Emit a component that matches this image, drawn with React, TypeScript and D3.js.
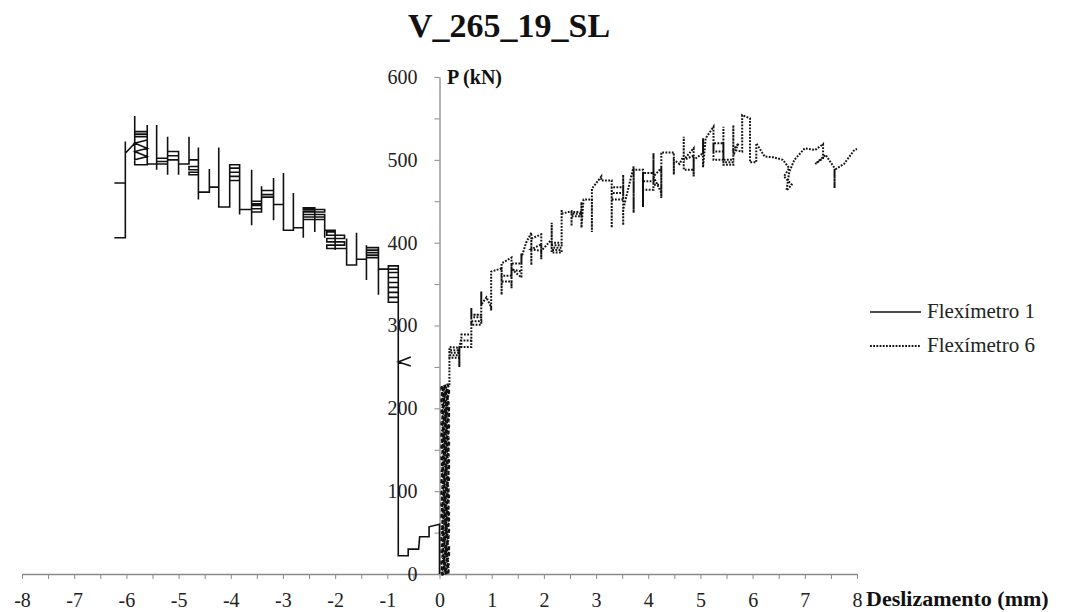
import React, { useRef, useEffect } from 'react';
import * as d3 from 'd3';

type Pt = [number, number]; // [deslizamento (mm), P (kN)]

const xTicks = [-8, -7, -6, -5, -4, -3, -2, -1, 0, 1, 2, 3, 4, 5, 6, 7, 8];
const xMinorTicks = [-7.5, -6.5, -5.5, -4.5, -3.5, -2.5, -1.5, -0.5, 0.5, 1.5, 2.5, 3.5, 4.5, 5.5, 6.5, 7.5];
const yTicks = [0, 100, 200, 300, 400, 500, 600];
const yMinorTicks = [50, 150, 250, 350, 450, 550];

// Flexímetro 1 (solid line) in drawing order
const fleximetro1: Pt[] = [
  [0.0, 0], [0.0, 60], [-0.2, 57], [-0.2, 45], [-0.38, 45], [-0.4, 30], [-0.6, 30], [-0.6, 22], [-0.79, 22],
  [-0.79, 256], [-0.55, 262], [-0.79, 256], [-0.55, 251], [-0.79, 256],
  [-0.79, 372], [-0.98, 372], [-0.98, 328], [-0.79, 328], [-0.79, 334], [-0.98, 334], [-0.98, 340], [-0.79, 340],
  [-0.79, 346], [-0.98, 346], [-0.98, 352], [-0.79, 352], [-0.79, 358], [-0.98, 358], [-0.98, 364], [-0.79, 364],
  [-0.79, 368], [-1.17, 368],
  [-1.17, 337], [-1.17, 391], [-1.17, 382],
  [-1.4, 382], [-1.4, 355], [-1.4, 397], [-1.4, 385], [-1.17, 385], [-1.17, 388], [-1.4, 388], [-1.4, 391],
  [-1.17, 391], [-1.17, 394], [-1.4, 394], [-1.4, 380],
  [-1.59, 380], [-1.59, 412], [-1.59, 373],
  [-1.78, 373], [-1.78, 405], [-1.78, 393],
  [-2.16, 393], [-2.16, 397], [-1.82, 397], [-1.82, 401], [-2.16, 401], [-2.16, 405], [-1.82, 405], [-1.82, 409],
  [-2.16, 409], [-2.16, 413], [-2.0, 413], [-2.0, 391], [-2.0, 415], [-2.2, 415], [-2.2, 406], [-2.2, 435],
  [-2.2, 428],
  [-2.61, 428], [-2.61, 431], [-2.2, 431], [-2.2, 434], [-2.61, 434], [-2.61, 437], [-2.2, 437], [-2.2, 440],
  [-2.61, 440], [-2.61, 442], [-2.39, 442], [-2.39, 413], [-2.39, 438], [-2.61, 438], [-2.61, 406], [-2.61, 418],
  [-2.8, 418], [-2.8, 460], [-2.8, 415],
  [-2.99, 415], [-2.99, 484], [-2.99, 446],
  [-3.18, 446], [-3.18, 427], [-3.18, 478], [-3.18, 458],
  [-3.41, 458], [-3.41, 463], [-3.18, 463], [-3.18, 455], [-3.41, 455], [-3.41, 437], [-3.41, 468], [-3.41, 445],
  [-3.6, 445], [-3.6, 437], [-3.41, 437], [-3.41, 441], [-3.6, 441], [-3.6, 450], [-3.41, 450], [-3.41, 447],
  [-3.6, 447], [-3.6, 421], [-3.6, 488], [-3.6, 440],
  [-3.83, 440], [-3.83, 434], [-3.83, 494], [-3.83, 475],
  [-4.02, 475], [-4.02, 480], [-3.83, 480], [-3.83, 485], [-4.02, 485], [-4.02, 490], [-3.83, 490], [-3.83, 494],
  [-4.02, 494], [-4.02, 443],
  [-4.23, 443], [-4.23, 515], [-4.23, 467],
  [-4.41, 467], [-4.41, 489], [-4.41, 461],
  [-4.62, 461], [-4.62, 452], [-4.62, 515], [-4.62, 485],
  [-4.8, 485], [-4.8, 482], [-4.62, 482], [-4.62, 488], [-4.8, 488], [-4.8, 492], [-4.62, 492], [-4.62, 500],
  [-4.8, 500], [-4.8, 528], [-4.8, 495],
  [-5.0, 495], [-5.0, 482], [-5.0, 510], [-5.0, 500],
  [-5.21, 500], [-5.21, 505], [-5.0, 505], [-5.0, 510], [-5.21, 510], [-5.21, 482], [-5.21, 528], [-5.21, 498],
  [-5.42, 498], [-5.42, 502], [-5.21, 502], [-5.21, 495], [-5.42, 495], [-5.42, 488], [-5.42, 542], [-5.42, 495],
  [-5.6, 495], [-5.6, 542], [-5.6, 494],
  [-5.84, 494], [-5.84, 553], [-5.84, 534], [-5.6, 534], [-5.6, 531], [-5.84, 531], [-5.84, 528], [-5.6, 528],
  [-5.6, 524], [-5.84, 520], [-5.6, 514], [-5.84, 510], [-5.6, 504], [-5.84, 500],
  [-5.84, 520], [-6.02, 508],
  [-6.02, 522], [-6.02, 472], [-6.23, 472], [-6.02, 472], [-6.02, 406], [-6.23, 406],
];

// Flexímetro 6 (dotted line): the dense initial part near zero slip
const fleximetro6Start: Pt[] = [
  [0.03, 0], [0.18, 3], [0.04, 7], [0.19, 10], [0.03, 14], [0.18, 17], [0.05, 21], [0.19, 24], [0.03, 28],
  [0.19, 31], [0.04, 35], [0.18, 38], [0.03, 42], [0.18, 45], [0.04, 49], [0.19, 52], [0.03, 56], [0.18, 59],
  [0.05, 63], [0.19, 66], [0.03, 70], [0.19, 73], [0.04, 77], [0.18, 80], [0.03, 84], [0.18, 87], [0.04, 91],
  [0.19, 94], [0.03, 98], [0.18, 101], [0.05, 105], [0.18, 108], [0.03, 112], [0.19, 115], [0.04, 119],
  [0.18, 122], [0.03, 126], [0.19, 129], [0.04, 133], [0.19, 136], [0.03, 140], [0.18, 143], [0.05, 147],
  [0.18, 150], [0.03, 154], [0.19, 157], [0.04, 161], [0.18, 164], [0.03, 168], [0.18, 171], [0.04, 175],
  [0.19, 178], [0.03, 182], [0.18, 185], [0.05, 189], [0.19, 192], [0.03, 196], [0.19, 199], [0.04, 203],
  [0.18, 206], [0.03, 210], [0.18, 213], [0.04, 217], [0.19, 220], [0.03, 224], [0.18, 228],
];

// Flexímetro 6 (dotted line): the rest of the loading path
const fleximetro6: Pt[] = [
  [0.19, 228], [0.19, 274],
  [0.38, 273], [0.38, 261], [0.19, 261], [0.19, 264], [0.38, 264], [0.38, 267], [0.19, 267], [0.19, 270],
  [0.38, 270], [0.38, 250], [0.38, 274],
  [0.42, 285], [0.42, 289], [0.61, 289], [0.61, 274], [0.42, 274], [0.42, 282], [0.61, 282], [0.61, 321], [0.61, 310],
  [0.8, 310], [0.8, 301], [0.61, 301], [0.61, 305], [0.8, 305], [0.8, 313], [0.61, 313], [0.8, 313], [0.8, 341], [0.8, 325],
  [0.9, 334], [0.99, 322], [0.99, 318], [0.99, 365],
  [1.19, 369], [1.19, 337], [1.19, 375],
  [1.38, 382], [1.38, 360], [1.19, 360], [1.19, 353], [1.38, 353], [1.38, 345], [1.38, 375], [1.57, 375],
  [1.57, 387], [1.57, 365], [1.38, 368], [1.57, 358], [1.57, 382],
  [1.66, 400], [1.76, 412], [1.76, 373], [1.76, 405],
  [1.95, 410], [1.95, 380], [1.95, 398], [1.76, 392], [1.95, 390], [2.15, 404], [2.15, 424], [2.15, 388],
  [2.34, 388], [2.34, 391], [2.15, 391], [2.15, 394], [2.34, 394], [2.34, 397], [2.15, 397], [2.15, 400],
  [2.34, 400], [2.34, 440], [2.34, 435],
  [2.53, 438], [2.53, 420], [2.53, 432], [2.72, 432], [2.72, 435], [2.53, 435], [2.53, 437], [2.72, 437],
  [2.72, 449], [2.72, 418], [2.76, 452], [2.92, 452], [2.92, 413], [2.92, 465], [3.1, 480], [3.1, 475], [3.3, 475],
  [3.3, 418], [3.3, 467], [3.52, 467], [3.52, 452], [3.3, 452], [3.3, 460], [3.52, 460], [3.52, 482],
  [3.52, 421], [3.52, 440], [3.72, 492], [3.72, 436], [3.72, 488], [3.9, 488], [3.9, 443], [3.9, 484],
  [4.1, 484], [4.1, 464], [3.9, 464], [3.9, 474], [4.1, 474], [4.1, 508], [4.1, 470], [4.25, 470],
  [4.25, 460], [4.1, 480], [4.25, 490], [4.25, 454], [4.25, 509], [4.49, 509], [4.49, 482], [4.49, 500],
  [4.6, 495], [4.68, 505], [4.68, 528], [4.68, 488], [4.87, 488], [4.87, 514], [4.68, 500], [4.87, 505],
  [4.87, 480], [4.87, 500], [5.05, 508], [5.05, 526], [5.05, 491], [5.1, 526], [5.25, 540], [5.25, 500],
  [5.44, 500], [5.44, 520], [5.25, 520], [5.25, 510], [5.44, 510], [5.44, 540], [5.44, 494], [5.63, 494],
  [5.63, 497], [5.44, 497], [5.44, 500], [5.63, 500], [5.63, 542], [5.63, 505], [5.73, 520], [5.63, 512],
  [5.8, 510], [5.8, 554], [5.95, 550], [5.95, 497], [6.07, 497], [6.07, 520], [6.23, 504], [6.4, 503],
  [6.58, 500], [6.7, 490], [6.6, 480], [6.75, 470], [6.65, 463], [6.7, 485], [6.8, 500], [7.0, 514],
  [7.2, 512], [7.35, 519], [7.35, 502], [7.2, 495], [7.4, 506], [7.57, 490], [7.57, 466], [7.57, 488],
  [7.75, 495], [7.95, 512], [8.0, 513],
];

const width = 1073;
const height = 612;
const fontFamily = '"Liberation Serif", "Times New Roman", serif';
const dotted = '1.8,1.4';

const App: React.FC = () => {
  const svgRef = useRef<SVGSVGElement | null>(null);

  useEffect(() => {
    if (!svgRef.current) {
      return;
    }
    const svg = d3.select(svgRef.current);
    svg.selectAll('*').remove();

    const x = d3.scaleLinear().domain([-8, 8]).range([22, 857]);
    const y = d3.scaleLinear().domain([0, 600]).range([574, 77]);
    const axisColor = '#8a8a8a';

    // x axis (crosses at P = 0)
    svg.append('g')
      .attr('transform', `translate(0,${y(0)})`)
      .call(d3.axisBottom(x).tickValues(xMinorTicks).tickSize(5).tickFormat(() => ''))
      .call(g => g.select('.domain').remove())
      .call(g => g.selectAll('line').attr('stroke', axisColor));

    svg.append('g')
      .attr('transform', `translate(0,${y(0)})`)
      .call(d3.axisBottom(x).tickValues(xTicks).tickSize(5).tickSizeOuter(0).tickPadding(14)
        .tickFormat(d => `${d}`))
      .call(g => g.select('.domain').attr('stroke', axisColor).attr('stroke-width', 1.3))
      .call(g => g.selectAll('line').attr('stroke', axisColor))
      .call(g => g.selectAll('text')
        .attr('font-family', fontFamily)
        .attr('font-size', 20)
        .attr('fill', '#222'));

    // y axis (crosses at slip = 0)
    svg.append('g')
      .attr('transform', `translate(${x(0)},0)`)
      .call(d3.axisLeft(y).tickValues(yMinorTicks).tickSize(5).tickFormat(() => ''))
      .call(g => g.select('.domain').remove())
      .call(g => g.selectAll('line').attr('stroke', axisColor));

    svg.append('g')
      .attr('transform', `translate(${x(0)},0)`)
      .call(d3.axisLeft(y).tickValues(yTicks).tickSize(5).tickSizeOuter(0).tickPadding(17)
        .tickFormat(d => `${d}`))
      .call(g => g.select('.domain').attr('stroke', axisColor).attr('stroke-width', 1.3))
      .call(g => g.selectAll('line').attr('stroke', axisColor))
      .call(g => g.selectAll('text')
        .attr('font-family', fontFamily)
        .attr('font-size', 20)
        .attr('fill', '#222'));

    const line = d3.line<Pt>()
      .x(d => x(d[0]))
      .y(d => y(d[1]));

    // Flexímetro 6 (dotted) - dense part near zero slip, the dots run together into a block
    svg.append('path')
      .datum(fleximetro6Start)
      .attr('fill', 'none')
      .attr('stroke', '#111')
      .attr('stroke-width', 4)
      .attr('stroke-linejoin', 'bevel')
      .attr('stroke-dasharray', '3,0.5')
      .attr('d', line);

    // Flexímetro 6 (dotted)
    svg.append('path')
      .datum(fleximetro6)
      .attr('fill', 'none')
      .attr('stroke', '#111')
      .attr('stroke-width', 2)
      .attr('stroke-dasharray', dotted)
      .attr('d', line);

    // Flexímetro 1 (solid)
    svg.append('path')
      .datum(fleximetro1)
      .attr('fill', 'none')
      .attr('stroke', '#111')
      .attr('stroke-width', 1.6)
      .attr('d', line);

    // Title
    svg.append('text')
      .attr('x', 509)
      .attr('y', 37)
      .attr('text-anchor', 'middle')
      .attr('font-family', fontFamily)
      .attr('font-weight', 'bold')
      .attr('font-size', 34)
      .attr('fill', '#111')
      .text('V_265_19_SL');

    // Axis titles
    svg.append('text')
      .attr('x', 447)
      .attr('y', 84)
      .attr('font-family', fontFamily)
      .attr('font-weight', 'bold')
      .attr('font-size', 20)
      .attr('fill', '#111')
      .text('P (kN)');

    svg.append('text')
      .attr('x', 866)
      .attr('y', 606)
      .attr('font-family', fontFamily)
      .attr('font-weight', 'bold')
      .attr('font-size', 22)
      .attr('fill', '#111')
      .text('Deslizamento (mm)');

    // Legend
    const legend = [
      { label: 'Flexímetro 1', dash: null as string | null, width: 1.6 },
      { label: 'Flexímetro 6', dash: dotted, width: 2 },
    ];
    legend.forEach((item, i) => {
      const ly = 312 + i * 34;
      svg.append('line')
        .attr('x1', 870)
        .attr('x2', 921)
        .attr('y1', ly)
        .attr('y2', ly)
        .attr('stroke', '#111')
        .attr('stroke-width', item.width)
        .attr('stroke-dasharray', item.dash);
      svg.append('text')
        .attr('x', 927)
        .attr('y', ly + 6)
        .attr('font-family', fontFamily)
        .attr('font-size', 21)
        .attr('fill', '#222')
        .text(item.label);
    });
  }, []);

  return (
    <svg
      ref={svgRef}
      width={width}
      height={height}
      style={{ position: 'absolute', left: 0, top: 0, background: '#fff' }}
    />
  );
};

export default App;
